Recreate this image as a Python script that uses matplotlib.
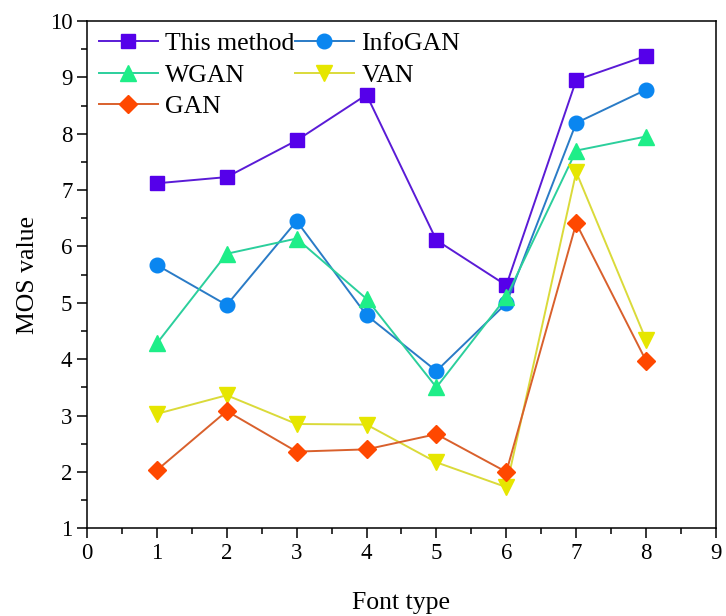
import matplotlib.pyplot as plt
from matplotlib.ticker import MultipleLocator

# data
font_type = [1, 2, 3, 4, 5, 6, 7, 8]
this_method = [7.12, 7.23, 7.88, 8.69, 6.11, 5.31, 8.95, 9.38]
infogan = [5.67, 4.96, 6.45, 4.78, 3.79, 4.99, 8.19, 8.78]
wgan = [4.28, 5.87, 6.14, 5.07, 3.50, 5.10, 7.70, 7.95]
van = [3.03, 3.36, 2.85, 2.84, 2.17, 1.73, 7.32, 4.34]
gan = [2.03, 3.08, 2.36, 2.40, 2.67, 2.00, 6.41, 3.97]

plt.rcParams['font.family'] = ['Liberation Serif', 'DejaVu Serif']

fig = plt.figure(figsize=(7.26, 6.16), dpi=100)
ax = fig.add_axes([0.1198, 0.1424, 0.8664, 0.8236])

# (label, values, marker, marker colour, line colour, marker size)
series = [
    ("This method", this_method, 's', '#5500EA', '#5A1BD6', 10),
    ("InfoGAN", infogan, 'o', '#0A86F0', '#2A7BC6', 10.5),
    ("WGAN", wgan, '^', '#1EEE88', '#2BCF9C', 11.5),
    ("VAN", van, 'v', '#E6E600', '#DADA3A', 11.5),
    ("GAN", gan, 'D', '#FF4800', '#D9602C', 9),
]

handles = {}
for name, vals, mk, mc, lc, ms in series:
    h, = ax.plot(font_type, vals, color=lc, lw=1.4, marker=mk, markersize=ms,
                 markerfacecolor=mc, markeredgecolor=mc, label=name)
    handles[name] = h

ax.set_xlim(0, 9)
ax.set_ylim(1, 10)
ax.xaxis.set_major_locator(MultipleLocator(1))
ax.xaxis.set_minor_locator(MultipleLocator(0.5))
ax.yaxis.set_major_locator(MultipleLocator(1))
ax.yaxis.set_minor_locator(MultipleLocator(0.5))
ax.tick_params(which='major', direction='out', length=7, width=1.1, labelsize=16.5,
               top=False, right=False)
ax.tick_params(which='minor', direction='out', length=4, width=1.1,
               top=False, right=False)
for sp in ax.spines.values():
    sp.set_linewidth(1.1)

ax.set_xlabel("Font type", fontsize=18.5, labelpad=20)
ax.set_ylabel("MOS value", fontsize=18.5, labelpad=8)

# legend laid out row by row: matplotlib fills columns first, so reorder
order = ["This method", "WGAN", "GAN", "InfoGAN", "VAN"]
ax.legend([handles[n] for n in order], order, ncol=2, loc='upper left',
          frameon=False, fontsize=18.5, handlelength=2.3, handletextpad=0.3,
          columnspacing=0.0, labelspacing=0.33, borderaxespad=0.2, borderpad=0.25)

fig.savefig("out.png", dpi=100)
